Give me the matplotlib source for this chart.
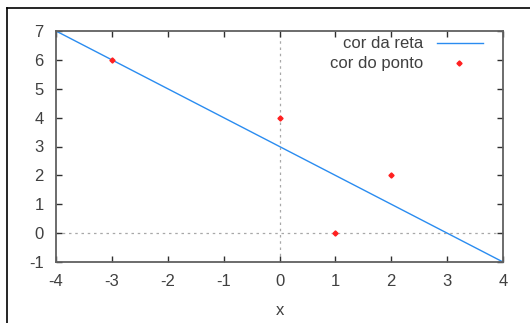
import matplotlib
matplotlib.use('Agg')
import matplotlib.pyplot as plt
from matplotlib.lines import Line2D
import numpy as np

# line y = 3 - x over the plotted range
line_x = [-4, 4]
line_y = [7, -1]

# points
pts_x = [-3, 0, 1, 2]
pts_y = [6, 4, 0, 2]

line_label = 'cor da reta'
pts_label = 'cor do ponto'

plt.rcParams['font.family'] = ['Liberation Sans', 'DejaVu Sans']
plt.rcParams['axes.unicode_minus'] = False
txt = '#404040'
axcol = '#606060'
fs = 12

fig = plt.figure(figsize=(5.3, 3.23), dpi=100)
ax = fig.add_axes([56/530, 1 - 262/323, 447/530, 231/323])

ax.axvline(0, color='#a8a8a8', lw=0.9, ls=(0, (2, 3)), zorder=1)
ax.axhline(0, color='#a8a8a8', lw=0.9, ls=(0, (2, 3)), zorder=1)

ax.plot(line_x, line_y, color='#2a8cf0', lw=1.0, zorder=2)
ax.plot(pts_x, pts_y, ls='none', marker='D', ms=2.6, color='#ff2020',
        mec='#ff2020', zorder=3)

ax.set_xlim(-4, 4)
ax.set_ylim(-1, 7)
ax.set_xticks(np.arange(-4, 5, 1))
ax.set_yticks(np.arange(-1, 8, 1))
ax.tick_params(direction='in', length=4, width=1, color='#303030',
               top=True, right=True, labelsize=fs, labelcolor=txt)
ax.tick_params(axis='x', pad=9)
ax.tick_params(axis='y', pad=9)
for s in ax.spines.values():
    s.set_color(axcol)
    s.set_linewidth(1.3)

ax.set_xlabel('x', fontsize=fs, color=txt, labelpad=10)

# legend, right aligned text like gnuplot
ax.text(0.821, 0.948, line_label, transform=ax.transAxes, ha='right',
        va='center', fontsize=fs, color=txt)
ax.text(0.821, 0.861, pts_label, transform=ax.transAxes, ha='right',
        va='center', fontsize=fs, color=txt)
ax.plot([0.852, 0.955], [0.948, 0.948], transform=ax.transAxes,
        color='#2a8cf0', lw=1.0, clip_on=False)
ax.plot([0.902], [0.861], transform=ax.transAxes, ls='none', marker='D',
        ms=2.6, color='#ff2020', clip_on=False)

# frame of the screenshot (top and left edges)
fig.add_artist(Line2D([7/530, 7/530], [0, 1 - 8/323], color='black',
                      lw=1.2, transform=fig.transFigure))
fig.add_artist(Line2D([7/530, 1], [1 - 8/323, 1 - 8/323], color='black',
                      lw=1.2, transform=fig.transFigure))

fig.savefig('out.png', dpi=100)
